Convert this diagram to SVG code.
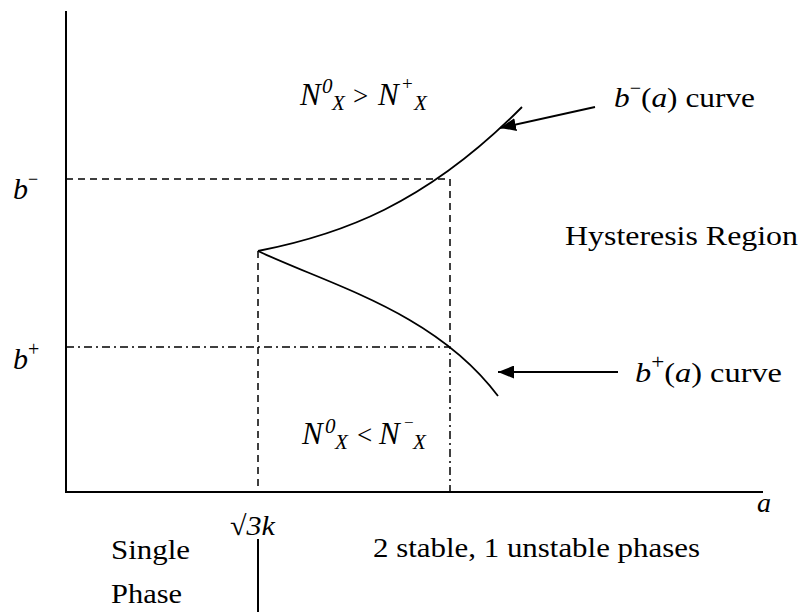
<svg xmlns="http://www.w3.org/2000/svg" width="803" height="615" viewBox="0 0 803 615">
<style>
.i{font-style:italic}
.n{font-style:normal}
.ax{stroke:#000;stroke-width:2;fill:none}
.cv{stroke:#000;stroke-width:1.8;fill:none}
.da{stroke:#000;stroke-width:1.5;fill:none;stroke-dasharray:7,5}
.dd{stroke:#000;stroke-width:1.5;fill:none;stroke-dasharray:8,4,2,4}
.ar{stroke:#000;stroke-width:2;fill:none}
</style>
<defs>
<marker id="ah" markerUnits="userSpaceOnUse" markerWidth="17" markerHeight="13" refX="16" refY="6.5" orient="auto">
<path d="M0,0 L16,6.5 L0,13 z" fill="#000"/>
</marker>
</defs>
<g id="axes">
<line class="ax" x1="66" y1="11" x2="66" y2="493"/>
<line class="ax" x1="65" y1="492" x2="763" y2="492"/>
<line class="ax" x1="258" y1="539" x2="258" y2="612"/>
</g>
<g id="guides">
<polyline class="da" points="66,179 450,179 450,347"/>
<polyline class="dd" points="66,347 450,347 450,492"/>
<line class="da" x1="258" y1="251" x2="258" y2="492"/>
</g>
<g id="curves">
<path id="bminus-curve" class="cv" d="M258,251 C340,235 425,205 522,107"/>
<path id="bplus-curve" class="cv" d="M258,251 C330,285 435,312 498,396"/>
</g>
<g id="connectors">
<line class="ar" x1="595" y1="107" x2="500" y2="128" marker-end="url(#ah)"/>
<line class="ar" x1="618" y1="372" x2="498" y2="372" marker-end="url(#ah)"/>
</g>
<g id="labels" font-family="'Liberation Serif', 'Times New Roman', serif" font-size="28" fill="#000">
<text x="13" y="199" font-size="30"><tspan class="i">b</tspan><tspan dy="-14" font-size="18">−</tspan></text>
<text x="13" y="369" font-size="30"><tspan class="i">b</tspan><tspan dy="-13" font-size="20">+</tspan></text>
<text class="i">
<tspan x="300" y="105" font-size="31">N</tspan><tspan x="322" y="93" font-size="21">0</tspan><tspan x="332" y="110" font-size="21">X</tspan><tspan class="n" x="353" y="105" font-size="27">&gt;</tspan><tspan x="378" y="105" font-size="31">N</tspan><tspan class="n" x="402" y="90" font-size="19">+</tspan><tspan x="414" y="110" font-size="21">X</tspan>
</text>
<text class="i">
<tspan x="302" y="444" font-size="31">N</tspan><tspan x="325" y="433" font-size="21">0</tspan><tspan x="335" y="449" font-size="21">X</tspan><tspan class="n" x="357" y="444" font-size="27">&lt;</tspan><tspan x="379" y="444" font-size="31">N</tspan><tspan class="n" x="404" y="428" font-size="17">−</tspan><tspan x="413" y="449" font-size="21">X</tspan>
</text>
<text x="614" y="107" textLength="141" lengthAdjust="spacingAndGlyphs"><tspan class="i">b</tspan><tspan dy="-13" font-size="18">−</tspan><tspan dy="13">(</tspan><tspan class="i">a</tspan>) curve</text>
<text x="635" y="382" textLength="147" lengthAdjust="spacingAndGlyphs"><tspan class="i">b</tspan><tspan dy="-13" font-size="20">+</tspan><tspan dy="13">(</tspan><tspan class="i">a</tspan>) curve</text>
<text x="565" y="245" textLength="233" lengthAdjust="spacingAndGlyphs">Hysteresis Region</text>
<text class="i" x="757" y="512">a</text>
<text x="230" y="535" textLength="45" lengthAdjust="spacingAndGlyphs">√<tspan class="i">3k</tspan></text>
<text x="111" y="559" textLength="79" lengthAdjust="spacingAndGlyphs">Single</text>
<text x="111" y="603" textLength="71" lengthAdjust="spacingAndGlyphs">Phase</text>
<text x="373" y="557" textLength="327" lengthAdjust="spacingAndGlyphs">2 stable, 1 unstable phases</text>
</g>
</svg>
